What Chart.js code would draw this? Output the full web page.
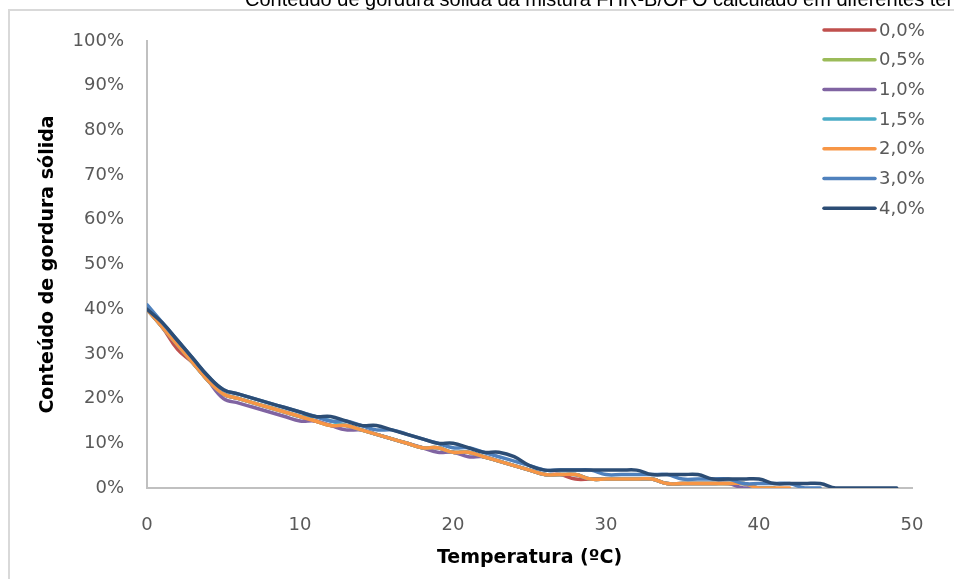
<!DOCTYPE html>
<html><head><meta charset="utf-8">
<script src="https://cdn.jsdelivr.net/npm/chart.js@4.4.0/dist/chart.umd.min.js"></script>
<style>html,body{margin:0;padding:0;background:#fff;overflow:hidden}#wrap{position:relative;width:954px;height:579px}</style>
</head><body><div id="wrap"><canvas id="c" width="954" height="579"></canvas></div>
<script>
const chartTitle = 'Conteúdo de gordura sólida da mistura FHR-B/OPO calculado em diferentes temperaturas';
const xTitle = 'Temperatura (ºC)';
const yTitle = 'Conteúdo de gordura sólida';
const temperatures = [0,1,2,3,4,5,6,7,8,9,10,11,12,13,14,15,16,17,18,19,20,21,22,23,24,25,26,27,28,29,30,31,32,33,34,35,36,37,38,39,40,41,42,43,44,45,46,47,48,49];
const seriesLabels = ['0,0%','0,5%','1,0%','1,5%','2,0%','3,0%','4,0%'];
const seriesColors = ['#C0504D','#9BBB59','#8064A2','#4BACC6','#F79646','#4F81BD','#2C4D75'];
const s00 = [40,36,31,28,24,21,20,19,18,17,16,15,14,14,13,12,11,10,9,9,8,8,7,6,5,4,3,3,2,2,2,2,2,2,1,1,1,1,1,1,0,0];
const s05 = [40,36,32,28,24,21,20,19,18,17,16,15,14,14,13,12,11,10,9,9,8,8,7,6,5,4,3,3,3,2,2,2,2,2,1,1,1,1,1,1,0,0];
const s10 = [40,36,32,28,24,20,19,18,17,16,15,15,14,13,13,12,11,10,9,8,8,7,7,6,5,4,3,3,3,2,2,2,2,2,1,1,1,1,1,0,0];
const s15 = [40,36,32,28,24,21,20,19,18,17,16,16,15,14,13,12,11,10,9,9,8,8,7,6,5,4,3,3,3,2,2,2,2,2,1,1,1,1,1,1,0,0];
const s20 = [40,36,32,28,24,21,20,19,18,17,16,15,14,14,13,12,11,10,9,9,8,8,7,6,5,4,3,3,3,2,2,2,2,2,1,1,1,1,1,1,0,0,0];
const s30 = [41,37,33,29,25,22,21,20,19,18,17,16,15,15,14,13,13,12,11,10,9,9,8,7,6,5,4,4,4,4,3,3,3,3,3,2,2,2,2,1,1,1,1,0,0];
const s40 = [40,37,33,29,25,22,21,20,19,18,17,16,16,15,14,14,13,12,11,10,10,9,8,8,7,5,4,4,4,4,4,4,4,3,3,3,3,2,2,2,2,1,1,1,1,0,0,0,0,0];
const yTicks = [0,10,20,30,40,50,60,70,80,90,100];
const xTicks = [0,10,20,30,40,50];

const allSeries = [s00,s05,s10,s15,s20,s30,s40];
const datasets = allSeries.map((vals,i)=>({
  label: seriesLabels[i],
  data: vals.map((v,j)=>({x: temperatures[j], y: v})),
  borderColor: seriesColors[i],
  backgroundColor: seriesColors[i],
  borderWidth: 3.5,
  pointRadius: 0,
  tension: 0.4,
  fill: false,
  borderJoinStyle: 'round',
  borderCapStyle: 'round',
  order: allSeries.length - i
}));

const tickFont = {family: 'DejaVu Sans', size: 18};
const titleFont = {family: 'DejaVu Sans', size: 19, weight: 'bold'};

const decor = {
  id: 'decor',
  beforeDraw(chart){
    const ctx = chart.ctx;
    ctx.save();
    ctx.fillStyle = '#fff';
    ctx.fillRect(0,0,chart.width,chart.height);
    ctx.strokeStyle = '#d9d9d9';
    ctx.lineWidth = 2;
    ctx.beginPath();
    ctx.moveTo(9, chart.height+2);
    ctx.lineTo(9, 10);
    ctx.lineTo(chart.width+2, 10);
    ctx.stroke();
    ctx.fillStyle = '#000';
    ctx.font = '20px "Liberation Sans", Arial, sans-serif';
    ctx.textAlign = 'left';
    ctx.textBaseline = 'alphabetic';
    ctx.fillText(chartTitle, 245, 6);
    ctx.restore();
  },
  afterDraw(chart){
    const ctx = chart.ctx;
    ctx.save();
    ctx.font = '18px "DejaVu Sans"';
    ctx.textBaseline = 'middle';
    ctx.textAlign = 'left';
    chart.data.datasets.forEach((ds,i)=>{
      const y = 30 + i*29.7;
      ctx.strokeStyle = ds.borderColor;
      ctx.lineWidth = 3.5;
      ctx.lineCap = 'round';
      ctx.beginPath();
      ctx.moveTo(824, y);
      ctx.lineTo(875, y);
      ctx.stroke();
      ctx.fillStyle = '#595959';
      ctx.fillText(ds.label, 879, y+1);
    });
    ctx.restore();
  }
};

new Chart(document.getElementById('c'), {
  type: 'line',
  data: {datasets},
  options: {
    responsive: false,
    animation: false,
    events: [],
    layout: {padding: {top: 41, right: 42, left: 0, bottom: 0}},
    plugins: {legend: {display: false}, tooltip: {enabled: false}, title: {display: false}},
    scales: {
      x: {
        type: 'linear', min: 0, max: 50,
        afterBuildTicks: s => { s.ticks = xTicks.map(v=>({value:v})); },
        afterFit: s => { s.height = 91; },
        grid: {display: false, drawTicks: false},
        border: {display: true, color: '#c0c0c0', width: 2},
        ticks: {color: '#595959', font: tickFont, padding: 27, maxRotation: 0, autoSkip: false},
        title: {display: true, text: xTitle, color: '#000', font: titleFont, padding: {top: 0, bottom: 10}}
      },
      y: {
        min: 0, max: 100,
        afterBuildTicks: s => { s.ticks = yTicks.map(v=>({value:v})); },
        afterFit: s => { s.width = 147; },
        grid: {display: false, drawTicks: false},
        border: {display: true, color: '#c0c0c0', width: 2},
        ticks: {color: '#595959', font: tickFont, padding: 23, autoSkip: false, callback: v => v + '%'},
        title: {display: true, text: yTitle, color: '#000', font: titleFont, padding: {top: 37, bottom: 0}}
      }
    }
  },
  plugins: [decor]
});
</script></body></html>
